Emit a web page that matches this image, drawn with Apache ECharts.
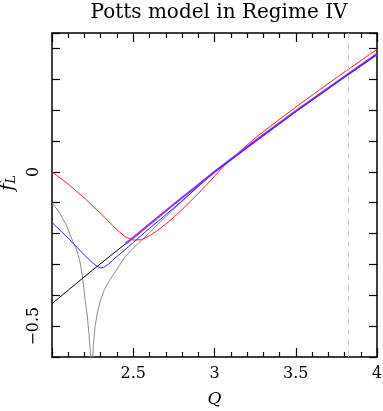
<!DOCTYPE html>
<html>
<head>
<meta charset="utf-8">
<script src="https://cdn.jsdelivr.net/npm/echarts@6/dist/echarts.min.js"></script>
<style>
  html, body { margin: 0; padding: 0; background: #fff; }
  #chart { width: 383px; height: 411px; }
</style>
</head>
<body>
<div id="chart"></div>
<script>
// values
const qRed = [2.0, 2.1, 2.2, 2.3, 2.4, 2.45, 2.5, 2.55, 2.6, 2.65, 2.7, 2.75, 2.8, 2.85, 2.9, 2.95, 3.0, 3.05, 3.1, 3.25, 3.5, 3.75, 4.0];
const fRed = [0, -0.04, -0.085, -0.135, -0.188, -0.21, -0.221, -0.22, -0.207, -0.19, -0.169, -0.147, -0.122, -0.096, -0.07, -0.043, -0.014, 0.014, 0.04, 0.11, 0.21, 0.305, 0.397];

const qBlue = [2.0, 2.1, 2.2, 2.25, 2.28, 2.3, 2.32, 2.35, 2.38, 2.45, 2.5, 2.6, 2.7, 2.8, 2.9, 3.0, 3.25, 3.5, 3.75, 4.0];
const fBlue = [-0.164, -0.215, -0.27, -0.295, -0.307, -0.311, -0.309, -0.298, -0.283, -0.252, -0.229, -0.183, -0.139, -0.094, -0.047, 0, 0.098, 0.195, 0.289, 0.38];

const qBlack = [2.0, 2.25, 2.5, 2.75, 3.0, 3.25, 3.5, 3.75, 4.0];
const fBlack = [-0.427, -0.318, -0.213, -0.105, 0, 0.1, 0.197, 0.29, 0.382];

const qPurple = [2.45, 2.5, 2.75, 3.0, 3.25, 3.5, 3.75, 4.0];
const fPurple = [-0.234, -0.213, -0.105, 0, 0.1, 0.197, 0.29, 0.382];

const qGray1 = [2.0, 2.05, 2.09, 2.12, 2.15, 2.17, 2.19, 2.205, 2.218, 2.228, 2.236, 2.242];
const fGray1 = [-0.1, -0.135, -0.175, -0.215, -0.25, -0.285, -0.35, -0.42, -0.47, -0.53, -0.58, -0.63];

const qGray2 = [2.248, 2.255, 2.265, 2.28, 2.295, 2.32, 2.35, 2.4, 2.45, 2.5, 2.6, 2.7, 2.8, 2.9, 3.0, 3.5, 4.0];
const fGray2 = [-0.63, -0.56, -0.5, -0.455, -0.422, -0.385, -0.355, -0.315, -0.275, -0.247, -0.197, -0.145, -0.096, -0.048, 0, 0.195, 0.38];

const markerQ = 3.82;
const yLabels = [0, -0.5];

const pairs = (xs, ys) => xs.map((x, i) => [x, ys[i]]);

const chart = echarts.init(document.getElementById('chart'));

const serif = 'DejaVu Serif';

// 四边框 + 内向刻度
const xBase = {
  type: 'value', min: 2, max: 4, interval: 0.5,
  axisLine: { show: true, onZero: false, lineStyle: { color: '#000', width: 1.5 } },
  axisTick: { show: true, inside: true, length: 9, lineStyle: { color: '#000', width: 1.2 } },
  minorTick: { show: true, splitNumber: 5, length: 5, lineStyle: { color: '#000', width: 1.2 } },
  splitLine: { show: false }
};
const yBase = {
  type: 'value', min: -0.6, max: 0.45, interval: 0.1,
  axisLine: { show: true, onZero: false, lineStyle: { color: '#000', width: 1.5 } },
  axisTick: { show: true, inside: true, length: 8, lineStyle: { color: '#000', width: 1.2 } },
  splitLine: { show: false }
};

const line = (data, color, width, z) => ({
  type: 'line', data, smooth: false, symbol: 'none', z,
  lineStyle: { color, width }, silent: true, animation: false
});

const option = {
  backgroundColor: '#fff',
  animation: false,
  title: {
    text: 'Potts model in Regime IV',
    left: 214, top: -2, textAlign: 'center',
    textStyle: { fontFamily: serif, fontWeight: 'normal', fontSize: 20, color: '#000' }
  },
  grid: { left: 52, right: 6, top: 33, bottom: 54, containLabel: false, outerBoundsMode: 'none' },
  xAxis: [
    Object.assign({}, xBase, {
      position: 'bottom',
      name: 'Q', nameLocation: 'middle', nameGap: 34,
      nameTextStyle: { fontFamily: serif, fontStyle: 'italic', fontSize: 17, color: '#000' },
      axisLabel: {
        show: true, margin: 9, fontFamily: serif, fontSize: 16, color: '#000',
        formatter: v => (v === 2 ? '' : String(v))
      }
    }),
    Object.assign({}, xBase, { position: 'top', axisLabel: { show: false } })
  ],
  yAxis: [
    Object.assign({}, yBase, {
      position: 'left',
      name: '{f|f}{s|L}', nameLocation: 'middle', nameGap: 24, nameRotate: 90,
      nameTextStyle: {
        color: '#000',
        padding: [0, 0, 0, 24],
        rich: {
          f: { fontFamily: serif, fontStyle: 'italic', fontSize: 19, color: '#000' },
          s: { fontFamily: serif, fontStyle: 'italic', fontSize: 13, color: '#000', padding: [8, 0, 0, 0] }
        }
      },
      axisLabel: {
        show: true, rotate: 90, margin: 10, fontFamily: serif, fontSize: 16, color: '#000',
        formatter: v => {
          const hit = yLabels.find(t => Math.abs(t - v) < 1e-6);
          if (hit === undefined) return '';
          return hit === 0 ? '0' : '\u2212' + Math.abs(hit);
        }
      }
    }),
    Object.assign({}, yBase, { position: 'right', axisLabel: { show: false } })
  ],
  series: [
    line(pairs(qGray1, fGray1), '#8c8c8c', 1, 1),
    line(pairs(qGray2, fGray2), '#8c8c8c', 1, 1),
    Object.assign(line(pairs(qBlack, fBlack), '#000', 1, 2), {
      markLine: {
        silent: true, symbol: 'none', animation: false,
        label: { show: false },
        lineStyle: { color: '#cccccc', type: [6, 5], width: 1 },
        data: [{ xAxis: markerQ }]
      }
    }),
    line(pairs(qRed, fRed), '#ff2020', 1, 3),
    line(pairs(qPurple, fPurple), '#9a35f0', 2.2, 4),
    line(pairs(qBlue, fBlue), '#2b2bff', 1, 5)
  ]
};

chart.setOption(option);
</script>
</body>
</html>
